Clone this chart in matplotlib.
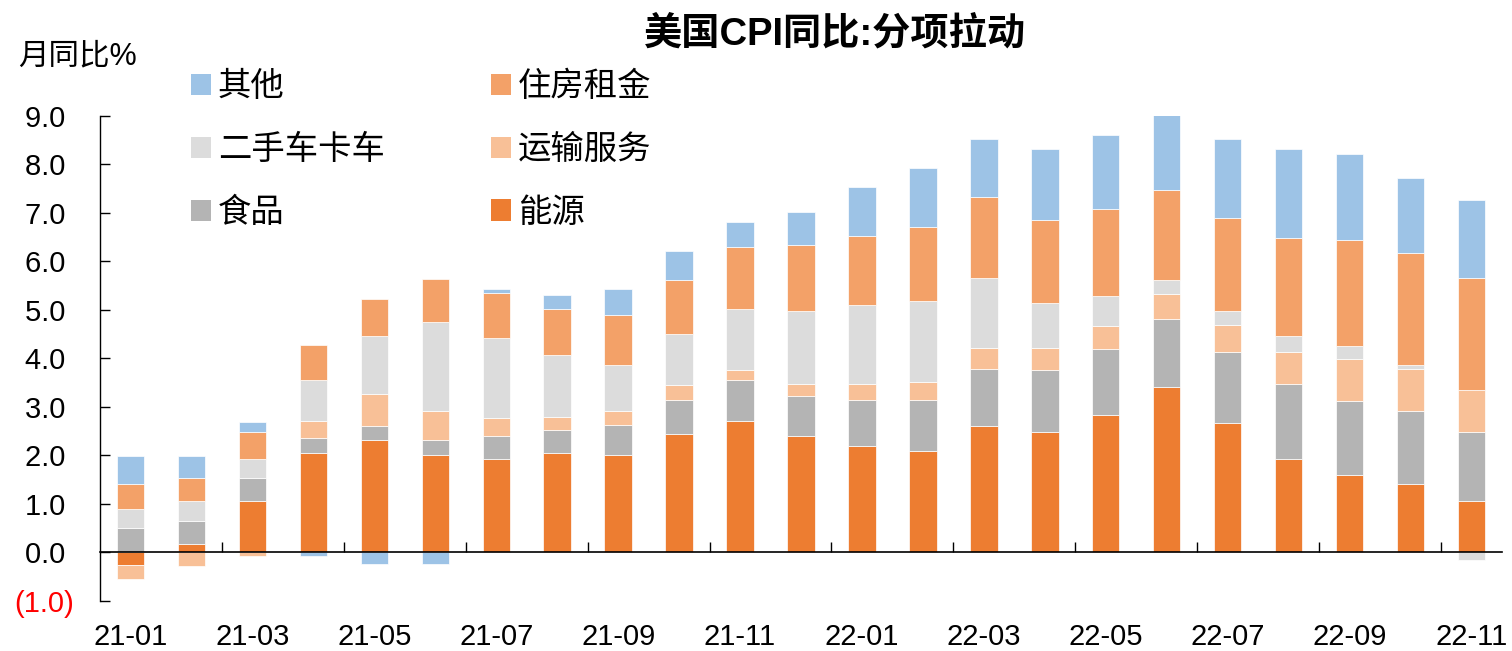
import numpy as np
import matplotlib.pyplot as plt
from matplotlib.patches import Patch

plt.rcParams['font.family'] = ['Liberation Sans', 'Noto Sans CJK SC']

# 月份
months = ['21-01', '21-02', '21-03', '21-04', '21-05', '21-06', '21-07', '21-08',
          '21-09', '21-10', '21-11', '21-12', '22-01', '22-02', '22-03', '22-04',
          '22-05', '22-06', '22-07', '22-08', '22-09', '22-10', '22-11']

# 分项拉动 (百分点)
energy = [-0.27, 0.18, 1.05, 2.05, 2.32, 2.01, 1.92, 2.05, 2.01, 2.44, 2.71, 2.40,
          2.20, 2.08, 2.60, 2.48, 2.84, 3.40, 2.67, 1.92, 1.60, 1.41, 1.05]
food = [0.49, 0.47, 0.48, 0.31, 0.28, 0.31, 0.48, 0.47, 0.62, 0.71, 0.84, 0.83,
        0.95, 1.07, 1.19, 1.27, 1.35, 1.42, 1.47, 1.55, 1.51, 1.50, 1.43]
transport = [-0.29, -0.29, -0.08, 0.35, 0.67, 0.59, 0.36, 0.28, 0.28, 0.29, 0.20, 0.24,
             0.32, 0.36, 0.43, 0.47, 0.47, 0.51, 0.55, 0.67, 0.88, 0.88, 0.87]
used_cars = [0.40, 0.40, 0.39, 0.84, 1.19, 1.83, 1.67, 1.27, 0.96, 1.06, 1.27, 1.51,
             1.63, 1.67, 1.43, 0.92, 0.63, 0.29, 0.29, 0.33, 0.27, 0.08, -0.17]
housing = [0.52, 0.48, 0.56, 0.73, 0.77, 0.89, 0.91, 0.95, 1.03, 1.12, 1.27, 1.35,
           1.43, 1.54, 1.67, 1.71, 1.80, 1.86, 1.91, 2.02, 2.19, 2.30, 2.30]
other = [0.57, 0.45, 0.21, -0.08, -0.25, -0.25, 0.09, 0.29, 0.53, 0.60, 0.52, 0.69,
         1.00, 1.21, 1.20, 1.47, 1.51, 1.55, 1.63, 1.83, 1.76, 1.56, 1.61]

series = [
    ('能源', energy, '#ED7D31'),
    ('食品', food, '#B4B4B4'),
    ('运输服务', transport, '#F8C097'),
    ('二手车卡车', used_cars, '#DCDCDC'),
    ('住房租金', housing, '#F3A168'),
    ('其他', other, '#9DC3E6'),
]

fig = plt.figure(figsize=(15.12, 6.51), dpi=100)
ax = fig.add_axes([100 / 1512, 50.3 / 651, 1402 / 1512, 484.7 / 651])

x = np.arange(len(months))
pos_base = np.zeros(len(months))
neg_base = np.zeros(len(months))
for name, vals, color in series:
    vals = np.array(vals)
    bottom = np.where(vals >= 0, pos_base, neg_base)
    ax.bar(x, vals, width=0.45, bottom=bottom, color=color,
           edgecolor='white', linewidth=0.5, zorder=2)
    pos_base = pos_base + np.clip(vals, 0, None)
    neg_base = neg_base + np.clip(vals, None, 0)

ax.set_xlim(-0.5, 22.5)
ax.set_ylim(-1, 9)

# y 轴: 负数用括号, 正数后留一个空格对齐
yt = np.arange(-1, 10)
ax.set_yticks(yt)
ax.set_yticklabels([f'({abs(v):.1f})' if v < 0 else f'{v:.1f} ' for v in yt], fontsize=21)
ax.get_yticklabels()[0].set_color('red')
ax.tick_params(axis='y', direction='in', length=7, width=1, pad=19)

# x 轴: 零线上的刻度, 标签在底部
ax.spines['bottom'].set_position(('data', 0))
ax.set_xticks(x[::2])
ax.set_xticklabels(months[::2], fontsize=21)
ax.set_xticks(np.arange(1.5, 22, 2), minor=True)
ax.tick_params(axis='x', which='major', length=0, pad=51)
ax.tick_params(axis='x', which='minor', direction='in', length=7, width=1)

for s in ['top', 'right']:
    ax.spines[s].set_visible(False)
ax.spines['left'].set_linewidth(1)
ax.spines['bottom'].set_linewidth(1.2)
ax.spines['bottom'].set_zorder(3)

fig.text(18 / 1512, 1 - 56 / 651, '月同比%', fontsize=22, va='center', ha='left')
fig.text(835 / 1512, 1 - 34 / 651, '美国CPI同比:分项拉动', fontsize=27.5,
         fontweight='bold', ha='center', va='center')

handles = [Patch(facecolor=c, label=n) for n, _, c in
           [series[5], series[3], series[1], series[4], series[2], series[0]]]
ax.legend(handles=handles, ncol=2, frameon=False, fontsize=24,
          loc='upper left', bbox_to_anchor=(191 / 1512, 1 - 72 / 651),
          bbox_transform=fig.transFigure, borderpad=0, borderaxespad=0,
          handlelength=0.6, handleheight=0.6, handletextpad=0.2,
          columnspacing=3.2, labelspacing=0.95)

fig.savefig('out.png', dpi=100)
